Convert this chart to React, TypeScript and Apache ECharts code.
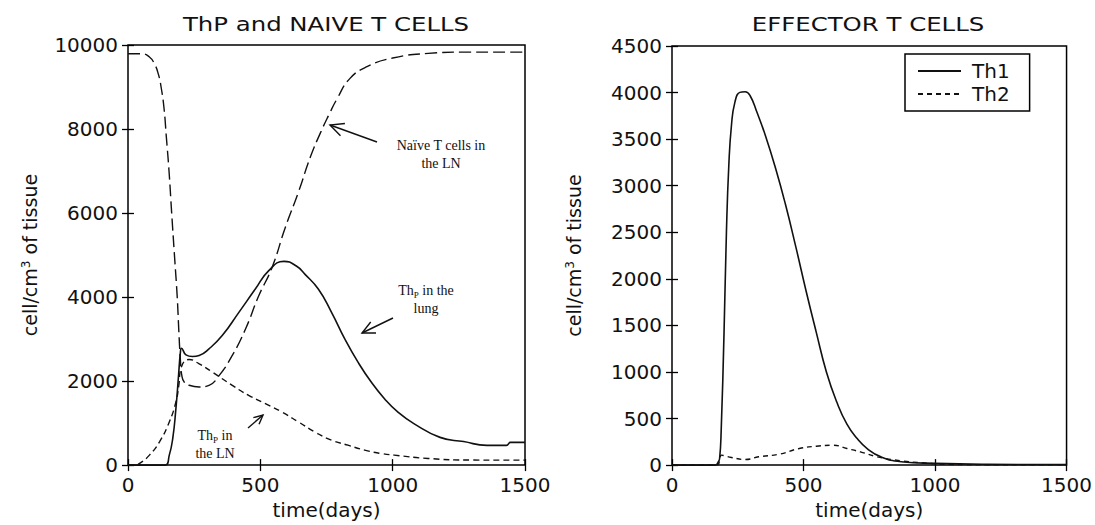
import React, { useEffect, useRef } from "react";
import * as echarts from "echarts";

// ---- Left panel: ThP and naive T cells ----
const naiveT = [0, 50, 80, 100, 115, 125, 136, 145, 155, 165, 176, 186, 192, 198, 203, 212, 231, 269, 306, 344, 394, 444, 494, 544, 594, 644, 690, 730, 760, 790, 838, 905, 1000, 1134, 1268, 1500];
const naiveV = [9790, 9790, 9720, 9550, 9300, 9000, 8500, 7800, 7000, 6000, 4950, 4000, 3200, 2500, 2150, 1980, 1900, 1860, 1900, 2130, 2610, 3240, 4030, 4700, 5650, 6500, 7350, 7950, 8350, 8720, 9200, 9490, 9690, 9800, 9830, 9830];

const thpLungT = [0, 140, 156, 169, 181, 191, 198, 202, 219, 244, 269, 306, 356, 419, 481, 531, 589, 636, 669, 719, 769, 819, 869, 919, 969, 1019, 1080, 1179, 1268, 1356, 1430, 1445, 1500];
const thpLungV = [0, 0, 237, 632, 1344, 2134, 2688, 2780, 2624, 2585, 2609, 2767, 3083, 3636, 4190, 4624, 4850, 4740, 4540, 4190, 3636, 3004, 2451, 1976, 1581, 1265, 988, 660, 560, 470, 470, 540, 540];

const thpLnT = [0, 30, 44, 81, 119, 156, 181, 192, 200, 231, 269, 319, 394, 456, 519, 581, 644, 706, 769, 831, 894, 956, 1006, 1134, 1300, 1500];
const thpLnV = [0, 10, 40, 237, 553, 1028, 1502, 1900, 2300, 2514, 2411, 2213, 1897, 1660, 1462, 1265, 1028, 790, 593, 474, 356, 277, 237, 158, 120, 118];

// ---- Right panel: effector T cells ----
const th1T = [0, 165, 175, 181, 187, 198, 207, 216, 226, 239, 258, 278, 297, 323, 355, 394, 432, 471, 510, 549, 587, 626, 665, 704, 742, 794, 871, 1000, 1200, 1500];
const th1V = [0, 0, 30, 71, 373, 1441, 2508, 3219, 3646, 3895, 4002, 4009, 3966, 3788, 3539, 3184, 2792, 2340, 1867, 1420, 1000, 680, 440, 285, 178, 89, 36, 18, 8, 5];

const th2T = [0, 170, 182, 187, 200, 226, 278, 329, 407, 484, 549, 613, 665, 716, 781, 871, 949, 1065, 1200, 1500];
const th2V = [0, 0, 60, 107, 100, 82, 60, 89, 117, 178, 203, 213, 178, 142, 89, 46, 25, 7, 3, 2];

const leftYTicks = { min: 0, max: 10000, interval: 2000 };
const rightYTicks = { min: 0, max: 4500, interval: 500 };
const xTicks = { min: 0, max: 1500, interval: 500 };

const titles = ["ThP and NAIVE T CELLS", "EFFECTOR T CELLS"];
const xName = "time(days)";
const yName = "cell/cm{sup|3} of tissue";

const zip = (t: number[], v: number[]) => t.map((x, i) => [x, v[i]]);

const FONT = "DejaVu Sans";
const SERIF = "Liberation Serif";
const INK = "#111";

function arrow(tx: number, ty: number, hx: number, hy: number, len: number) {
  const a = Math.atan2(hy - ty, hx - tx);
  const w = 0.45;
  const p1 = [hx - len * Math.cos(a - w), hy - len * Math.sin(a - w)];
  const p2 = [hx - len * Math.cos(a + w), hy - len * Math.sin(a + w)];
  return [
    { type: "line", shape: { x1: tx, y1: ty, x2: hx, y2: hy }, style: { stroke: INK, lineWidth: 1.4 } },
    { type: "polyline", shape: { points: [p1, [hx, hy], p2] }, style: { stroke: INK, lineWidth: 1.4, fill: null } },
  ];
}

const plain = (v: number) => String(v);

function xAxes(gridIndex: number) {
  const tick = { inside: true, length: 6, lineStyle: { color: "#000", width: 1.3 } };
  return [
    {
      gridIndex, type: "value", position: "bottom", ...xTicks,
      axisLine: { show: false }, axisTick: tick, splitLine: { show: false },
      axisLabel: { margin: 10, color: INK, fontSize: 20, fontFamily: FONT, formatter: plain },
      name: xName, nameLocation: "middle", nameGap: 30,
      nameTextStyle: { fontSize: 20, color: INK, fontFamily: FONT },
    },
    {
      gridIndex, type: "value", position: "top", ...xTicks,
      axisLine: { show: false }, axisTick: tick, splitLine: { show: false },
      axisLabel: { show: false },
    },
  ];
}

function yAxes(gridIndex: number, ticks: any) {
  const tick = { inside: true, length: 6, lineStyle: { color: "#000", width: 1.3 } };
  return [
    {
      gridIndex, type: "value", position: "left", ...ticks,
      axisLine: { show: false }, axisTick: tick, splitLine: { show: false },
      axisLabel: { margin: 10, color: INK, fontSize: 20, fontFamily: FONT, formatter: plain },
      name: yName, nameLocation: "middle", nameGap: 88, nameRotate: 90,
      nameTextStyle: {
        fontSize: 19, color: INK, fontFamily: FONT,
        rich: { sup: { fontSize: 12, fontFamily: FONT, color: INK, verticalAlign: "top", padding: [0, 0, 8, 0] } },
      },
    },
    {
      gridIndex, type: "value", position: "right", ...ticks,
      axisLine: { show: false }, axisTick: tick, splitLine: { show: false },
      axisLabel: { show: false },
    },
  ];
}

export default function App() {
  const ref = useRef<HTMLDivElement>(null);
  useEffect(() => {
    document.body.style.margin = "0";
    const chart = echarts.init(ref.current!, null, { renderer: "svg", width: 1095, height: 525 });
    const lineBase = {
      type: "line", showSymbol: false, symbol: "none", smooth: 0.5, silent: true,
      itemStyle: { color: INK },
    };
    chart.setOption({
      animation: false,
      backgroundColor: "#fff",
      textStyle: { fontFamily: FONT },
      grid: [
        { left: 128, top: 45, width: 397, height: 425, show: true, borderColor: "#000", borderWidth: 1.5, backgroundColor: "transparent" },
        { left: 672, top: 46, width: 396, height: 423, show: true, borderColor: "#000", borderWidth: 1.5, backgroundColor: "transparent" },
      ],
      xAxis: [...xAxes(0), ...xAxes(1)],
      yAxis: [...yAxes(0, leftYTicks), ...yAxes(1, rightYTicks)],
      legend: {
        data: ["Th1", "Th2"],
        orient: "vertical",
        left: 905,
        top: 54,
        padding: [7, 20, 7, 12],
        itemWidth: 43,
        itemHeight: 20,
        itemGap: 3,
        selectedMode: false,
        borderColor: "#000",
        borderWidth: 1.5,
        backgroundColor: "#fff",
        itemStyle: { opacity: 0 },
        textStyle: { fontSize: 20, color: INK, fontFamily: FONT, padding: [0, 0, 0, 6] },
      },
      series: [
        { ...lineBase, name: "Naive", xAxisIndex: 0, yAxisIndex: 0, data: zip(naiveT, naiveV), lineStyle: { color: INK, width: 1.4, type: [12, 5] } },
        { ...lineBase, name: "ThP lung", xAxisIndex: 0, yAxisIndex: 0, data: zip(thpLungT, thpLungV), lineStyle: { color: INK, width: 1.6, type: "solid" } },
        { ...lineBase, name: "ThP LN", xAxisIndex: 0, yAxisIndex: 0, data: zip(thpLnT, thpLnV), lineStyle: { color: INK, width: 1.4, type: [6, 4] } },
        { ...lineBase, name: "Th1", xAxisIndex: 2, yAxisIndex: 2, data: zip(th1T, th1V), lineStyle: { color: INK, width: 1.6, type: "solid" } },
        { ...lineBase, name: "Th2", xAxisIndex: 2, yAxisIndex: 2, data: zip(th2T, th2V), lineStyle: { color: INK, width: 1.4, type: [5, 4] } },
      ],
      graphic: [
        { type: "text", x: 326, y: 24, scaleX: 1.22, style: { text: titles[0], fontSize: 20, fontFamily: FONT, fill: INK, align: "center", verticalAlign: "middle" } },
        { type: "text", x: 868, y: 24, scaleX: 1.22, style: { text: titles[1], fontSize: 20, fontFamily: FONT, fill: INK, align: "center", verticalAlign: "middle" } },
        { type: "text", x: 441, y: 154, style: { text: "Naïve T cells in\nthe LN", fontSize: 14, fontFamily: SERIF, fill: INK, align: "center", verticalAlign: "middle", lineHeight: 18 } },
        {
          type: "text", x: 426, y: 299,
          style: {
            text: "Th{sub|P} in the\nlung", fontSize: 14, fontFamily: SERIF, fill: INK, align: "center", verticalAlign: "middle", lineHeight: 18,
            rich: { sub: { fontSize: 9, fontFamily: SERIF, fill: INK, verticalAlign: "bottom", lineHeight: 18 } },
          },
        },
        {
          type: "text", x: 215, y: 444,
          style: {
            text: "Th{sub|P} in\nthe LN", fontSize: 14, fontFamily: SERIF, fill: INK, align: "center", verticalAlign: "middle", lineHeight: 18,
            rich: { sub: { fontSize: 9, fontFamily: SERIF, fill: INK, verticalAlign: "bottom", lineHeight: 18 } },
          },
        },
        ...arrow(377, 142, 330, 125, 15),
        ...arrow(393, 318, 362, 333, 14),
        ...arrow(248, 428, 263, 415, 10),
      ],
    });
    return () => chart.dispose();
  }, []);
  return <div ref={ref} style={{ position: "absolute", left: 0, top: 0, width: 1095, height: 525, background: "#fff" }} />;
}
